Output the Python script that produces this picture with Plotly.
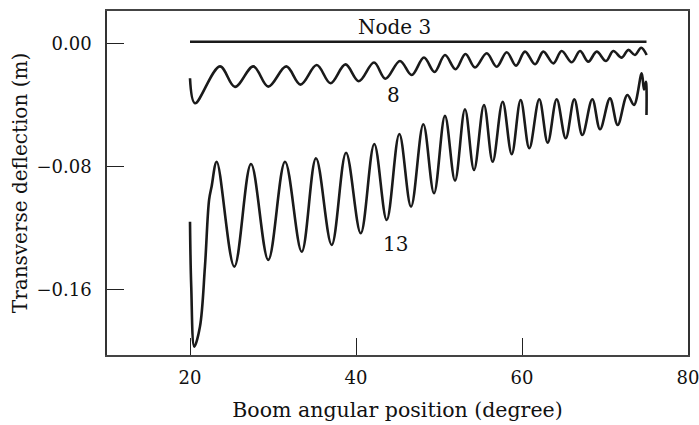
import plotly.graph_objects as go

# Node 3 (essentially flat)
node3_x = [20.0, 75.0]
node3_y = [0.001, 0.001]

# Node 8 (read extrema)
node8_x = [20.0, 20.60, 23.61, 25.42, 27.63, 29.43, 31.60, 33.31, 35.27, 36.93, 38.73, 40.34,
           42.17, 43.55, 45.30, 46.71, 48.19, 49.46, 50.72, 51.99, 53.19, 54.34, 55.75, 56.95,
           58.16, 59.28, 60.36, 61.57, 62.57, 63.77, 64.78, 65.99, 66.99, 67.99, 69.00, 70.12,
           71.00, 72.01, 72.81, 73.61, 74.36, 75.02]
node8_y = [-0.0227, -0.0389, -0.0150, -0.0283, -0.0150, -0.0281, -0.0150, -0.0268, -0.0141, -0.0259,
           -0.0137, -0.0246, -0.0125, -0.0230, -0.0115, -0.0206, -0.0092, -0.0186, -0.0076, -0.0168,
           -0.0069, -0.0157, -0.0065, -0.0152, -0.0058, -0.0145, -0.0054, -0.0136, -0.0054, -0.0130,
           -0.0050, -0.0123, -0.0050, -0.0119, -0.0054, -0.0115, -0.0050, -0.0093, -0.0043, -0.0076,
           -0.0029, -0.0076]

# Node 13 (read extrema and a few intermediate points)
node13_x = [20.0, 20.15, 20.52, 21.2, 21.8, 22.3, 22.6, 23.22, 25.34, 27.35, 29.43, 31.45, 33.46,
            35.18, 37.07, 38.80, 40.57, 42.20, 43.70, 45.22, 46.63, 48.11, 49.40, 50.72, 51.93,
            53.13, 54.22, 55.42, 56.47, 57.67, 58.76, 59.84, 60.88, 62.08, 63.10, 64.18, 65.27,
            66.30, 67.27, 68.47, 69.40, 70.60, 71.53, 72.69, 73.49, 74.42, 74.70, 74.94, 75.0, 75.0]
node13_y = [-0.1157, -0.158, -0.1968, -0.1838, -0.1449, -0.1016, -0.093, -0.0768, -0.1449, -0.0783,
            -0.1405, -0.0768, -0.1352, -0.0746, -0.1308, -0.0710, -0.1232, -0.0653, -0.1146, -0.0588,
            -0.1060, -0.0525, -0.0973, -0.0471, -0.0891, -0.0428, -0.0822, -0.0400, -0.0768, -0.0379,
            -0.0720, -0.0368, -0.0681, -0.0363, -0.0645, -0.0363, -0.0616, -0.0363, -0.0595, -0.0363,
            -0.0558, -0.0357, -0.0530, -0.0335, -0.0400, -0.0195, -0.0300, -0.0250, -0.0290, -0.0465]

x_ticks = [20, 40, 60, 80]
x_tick_labels = ["20", "40", "60", "80"]
y_ticks = [0.0, -0.08, -0.16]
y_tick_labels = ["0.00", "\u22120.08", "\u22120.16"]

labels_text = ["Node 3", "8", "13"]
labels_x = [44.6, 44.5, 44.7]
labels_y = [0.0103, -0.0335, -0.1302]

FONT = "DejaVu Serif"
line_style = dict(color="#1a1a1a", width=2.6)

fig = go.Figure()
fig.add_trace(go.Scatter(x=node3_x, y=node3_y, mode="lines", line=line_style))
fig.add_trace(go.Scatter(x=node8_x, y=node8_y, mode="lines",
                         line=dict(**line_style, shape="spline", smoothing=1.0)))
fig.add_trace(go.Scatter(x=node13_x, y=node13_y, mode="lines",
                         line=dict(**line_style, shape="spline", smoothing=1.0)))

for t, x, y in zip(labels_text, labels_x, labels_y):
    fig.add_annotation(x=x, y=y, text=t, showarrow=False,
                       font=dict(family=FONT, size=20, color="#111"))

fig.update_layout(
    width=699, height=425,
    margin=dict(l=107, r=11, t=11, b=70),
    paper_bgcolor="white", plot_bgcolor="white",
    showlegend=False,
    font=dict(family=FONT, size=18, color="#111"),
)
fig.update_xaxes(
    range=[10, 80], tickvals=x_ticks, ticktext=x_tick_labels,
    ticks="inside", ticklen=17, tickwidth=1, tickcolor="#222",
    showline=True, linecolor="#444", linewidth=1.5, mirror=True,
    showgrid=False, zeroline=False, automargin=False,
    ticklabelstandoff=6, ticklabeloverflow="allow", tickfont=dict(family=FONT, size=18),
    title=dict(text="Boom angular position (degree)", font=dict(family=FONT, size=20.5), standoff=15),
)
fig.update_yaxes(
    range=[-0.2022, 0.02095], tickvals=y_ticks, ticktext=y_tick_labels,
    ticks="inside", ticklen=17, tickwidth=1, tickcolor="#222",
    showline=True, linecolor="#333", linewidth=1.5, mirror=True,
    showgrid=False, zeroline=False, automargin=False,
    ticklabelstandoff=10, tickfont=dict(family=FONT, size=18),
    title=dict(text="Transverse deflection (m)", font=dict(family=FONT, size=20), standoff=3),
)

fig.write_html("out.html", config={"displayModeBar": False},
               post_script="document.body.style.margin='0px';")
